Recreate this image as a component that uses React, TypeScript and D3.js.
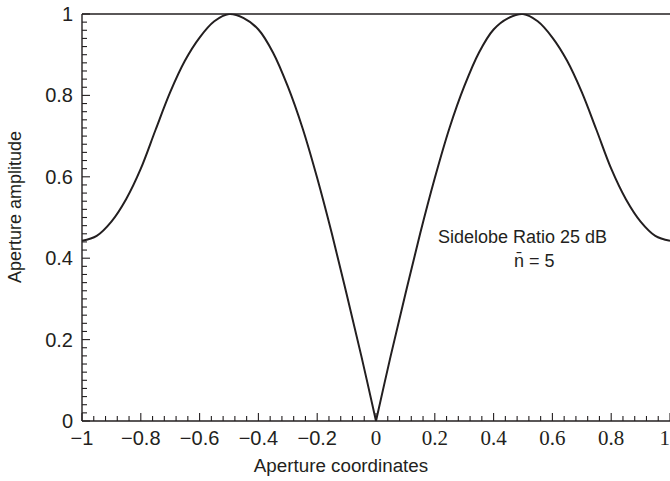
import React from "react";
import * as d3 from "d3";

const apertureX = [
  -1, -0.95, -0.9, -0.85, -0.8, -0.75, -0.7, -0.65, -0.6, -0.55, -0.5,
  -0.45, -0.4, -0.35, -0.3, -0.25, -0.2, -0.15, -0.1, -0.05, 0,
  0.05, 0.1, 0.15, 0.2, 0.25, 0.3, 0.35, 0.4, 0.45, 0.5,
  0.55, 0.6, 0.65, 0.7, 0.75, 0.8, 0.85, 0.9, 0.95, 1,
];
const amplitude = [
  0.443, 0.455, 0.49, 0.545, 0.62, 0.715, 0.808, 0.885, 0.942, 0.982, 1.0,
  0.99, 0.962, 0.905, 0.822, 0.72, 0.597, 0.46, 0.312, 0.16, 0,
  0.16, 0.312, 0.46, 0.597, 0.72, 0.822, 0.905, 0.962, 0.99, 1.0,
  0.982, 0.942, 0.885, 0.808, 0.715, 0.62, 0.545, 0.49, 0.455, 0.443,
];

const xTickValues = [-1, -0.8, -0.6, -0.4, -0.2, 0, 0.2, 0.4, 0.6, 0.8, 1];
const xTickLabels = ["\u22121", "\u22120.8", "\u22120.6", "\u22120.4", "\u22120.2", "0", "0.2", "0.4", "0.6", "0.8", "1"];
const yTickValues = [0, 0.2, 0.4, 0.6, 0.8, 1];
const yTickLabels = ["0", "0.2", "0.4", "0.6", "0.8", "1"];

const xTitle = "Aperture coordinates";
const yTitle = "Aperture amplitude";
const note1 = "Sidelobe Ratio 25 dB";
const note2 = "n\u0304 = 5";

const W = 670;
const H = 481;
const left = 82;
const right = 670;
const top = 14;
const bottom = 421;
const ink = "#231f20";
const sans = "'Liberation Sans', Arial, Helvetica, sans-serif";
const serif = "'Liberation Serif', 'Times New Roman', serif";

export default function App() {
  const x = d3.scaleLinear().domain([-1, 1]).range([left, right]);
  const y = d3.scaleLinear().domain([0, 1]).range([bottom, top]);

  const pts = apertureX.map((v, i) => [v, amplitude[i]] as [number, number]);
  const leftHalf = pts.filter((p) => p[0] <= 0);
  const rightHalf = pts.filter((p) => p[0] >= 0);
  const line = d3
    .line<[number, number]>()
    .x((d) => x(d[0]))
    .y((d) => y(d[1]))
    .curve(d3.curveCatmullRom.alpha(0.5));

  const xMinor = d3.range(0, 51).map((i) => -1 + i * 0.04);
  const yMinor = d3.range(0, 51).map((i) => i * 0.02);

  return (
    <svg
      width={W}
      height={H}
      style={{ position: "absolute", left: 0, top: 0, display: "block", background: "#fff" }}
    >
      <defs>
        <clipPath id="plotClip">
          <rect x={left} y={top - 0.5} width={right - left} height={bottom - top + 1} />
        </clipPath>
      </defs>
      {/* axes lines */}
      <line x1={left} x2={right} y1={bottom} y2={bottom} stroke={ink} strokeWidth={1.4} />
      <line x1={left} x2={left} y1={top} y2={bottom} stroke={ink} strokeWidth={1.4} />
      <line x1={left} x2={right} y1={top} y2={top} stroke={ink} strokeWidth={1.4} />

      {/* x ticks */}
      {xMinor.map((v, i) => {
        const major = i % 5 === 0;
        return (
          <line
            key={"xm" + i}
            x1={x(v)}
            x2={x(v)}
            y1={bottom}
            y2={bottom - (major ? 8 : 5)}
            stroke={ink}
            strokeWidth={1.1}
          />
        );
      })}
      {/* y ticks */}
      {yMinor.map((v, i) => {
        const major = i % 10 === 0;
        return (
          <line
            key={"ym" + i}
            x1={left}
            x2={left + (major ? 8 : 5)}
            y1={y(v)}
            y2={y(v)}
            stroke={ink}
            strokeWidth={1.1}
          />
        );
      })}

      {/* x tick labels */}
      {xTickValues.map((v, i) => {
        const last = i === xTickValues.length - 1;
        return (
          <text
            key={"xl" + i}
            x={last ? W : x(v)}
            y={445}
            textAnchor={last ? "end" : "middle"}
            fontFamily={v < 0 ? sans : serif}
            fontSize={v < 0 ? 20 : 21}
            fill={ink}
          >
            {xTickLabels[i]}
          </text>
        );
      })}
      {/* y tick labels */}
      {yTickValues.map((v, i) => (
        <text
          key={"yl" + i}
          x={73}
          y={y(v) + 7}
          textAnchor="end"
          fontFamily={sans}
          fontSize={20}
          fill={ink}
        >
          {yTickLabels[i]}
        </text>
      ))}

      {/* curve */}
      <g clipPath="url(#plotClip)">
        <path d={line(leftHalf) || ""} fill="none" stroke={ink} strokeWidth={2} />
        <path d={line(rightHalf) || ""} fill="none" stroke={ink} strokeWidth={2} />
      </g>

      {/* annotation */}
      <text x={438} y={243} fontFamily={sans} fontSize={18} fill={ink}>
        {note1}
      </text>
      <text x={514} y={267} fontFamily={sans} fontSize={18} fill={ink}>
        {note2}
      </text>

      {/* axis titles */}
      <text x={341} y={472} textAnchor="middle" fontFamily={sans} fontSize={18.8} fill={ink}>
        {xTitle}
      </text>
      <text
        transform={`translate(21,207) rotate(-90)`}
        textAnchor="middle"
        fontFamily={sans}
        fontSize={18}
        fill={ink}
      >
        {yTitle}
      </text>
    </svg>
  );
}
